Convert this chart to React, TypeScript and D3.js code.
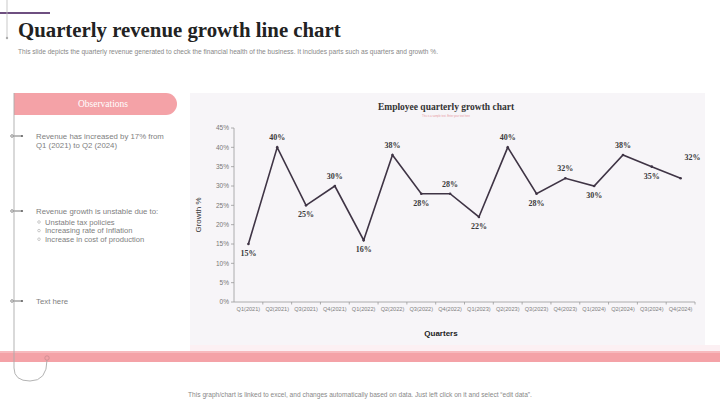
import React from 'react';
import * as d3 from 'd3';

// chart data
const quarters = [
  'Q1(2021)', 'Q2(2021)', 'Q3(2021)', 'Q4(2021)',
  'Q1(2022)', 'Q2(2022)', 'Q3(2022)', 'Q4(2022)',
  'Q1(2023)', 'Q2(2023)', 'Q3(2023)', 'Q4(2023)',
  'Q1(2024)', 'Q2(2024)', 'Q3(2024)', 'Q4(2024)',
];
const growth = [15, 40, 25, 30, 16, 38, 28, 28, 22, 40, 28, 32, 30, 38, 35, 32];
const yTicks = [0, 5, 10, 15, 20, 25, 30, 35, 40, 45];

const observations = [
  ['Revenue has increased by 17% from', 'Q1 (2021) to Q2 (2024)'],
  ['Revenue growth is unstable due to:'],
  ['Text here'],
];
const causes = ['Unstable tax policies', 'Increasing rate of Inflation', 'Increase in cost of production'];

const W = 720;
const H = 404;
const pink = '#f4a2a7';
const sans = 'Liberation Sans, Arial, sans-serif';
const serif = 'Liberation Serif, Times New Roman, serif';

export default function App() {
  const plot = { left: 234, right: 695, top: 128, bottom: 302 };

  const x = d3.scaleBand<string>()
    .domain(quarters)
    .range([plot.left, plot.right]);
  const y = d3.scaleLinear()
    .domain([0, 45])
    .range([plot.bottom, plot.top]);

  const cx = (i: number) => (x(quarters[i]) ?? 0) + x.bandwidth() / 2;

  const line = d3.line<number>()
    .x((_, i) => cx(i))
    .y(d => y(d));

  // bullet rows on the left timeline
  const bulletY = [136, 211, 301];

  return (
    <svg width={W} height={H} style={{ position: 'absolute', left: 0, top: 0, background: '#fff' }}>
      {/* header decoration */}
      <line x1={0} y1={13} x2={50} y2={13} stroke="#6e4f80" strokeWidth={2} />
      <line x1={7} y1={0} x2={7} y2={38} stroke="#bbb" strokeWidth={0.8} />
      <circle cx={7} cy={38} r={1.2} fill="#aaa" />
      <text x={18} y={37} fontFamily={serif} fontWeight="bold" fontSize={20.8} fill="#222">
        Quarterly revenue growth line chart
      </text>
      <text x={18} y={54} fontFamily={sans} fontSize={6.6} fill="#888">
        This slide depicts the quarterly revenue generated to check the financial health of the business. It includes parts such as quarters and growth %.
      </text>

      {/* observations panel */}
      <path d="M14,93 H166 A11,11 0 0 1 166,115 H14 Z" fill={pink} />
      <text x={103} y={107} textAnchor="middle" fontFamily={serif} fontSize={9.5} fill="#fff">
        Observations
      </text>

      {bulletY.map((by, i) => (
        <g key={i}>
          <line x1={12} y1={by} x2={22} y2={by} stroke="#666" strokeWidth={0.9} />
          <circle cx={12} cy={by} r={1.3} fill="#fff" stroke="#666" strokeWidth={0.7} />
          <circle cx={22} cy={by} r={1.1} fill="#666" />
          {observations[i].map((t, j) => (
            <text key={j} x={36} y={by + 3 + j * 9} fontFamily={sans} fontSize={7.8} fill="#808080">{t}</text>
          ))}
        </g>
      ))}
      {causes.map((c, i) => (
        <g key={c}>
          <circle cx={39} cy={222 + i * 8.6} r={1.3} fill="none" stroke="#999" strokeWidth={0.5} />
          <text x={45} y={224.6 + i * 8.6} fontFamily={sans} fontSize={7.6} fill="#808080">{c}</text>
        </g>
      ))}

      {/* chart panel */}
      <rect x={190} y={93} width={515} height={252} fill="#f7f5f8" />
      <rect x={190} y={345} width={530} height={6} fill="#fcf0f3" />
      <text x={446} y={110} textAnchor="middle" fontFamily={serif} fontWeight="bold" fontSize={9.5} fill="#333">
        Employee quarterly growth chart
      </text>
      <text x={446} y={117} textAnchor="middle" fontFamily={sans} fontSize={2.6} fill="#e79aa3">
        This is a sample text. Enter your text here
      </text>

      {/* y axis */}
      <line x1={plot.left} y1={plot.top} x2={plot.left} y2={plot.bottom} stroke="#999" strokeWidth={0.8} />
      {yTicks.map(t => (
        <g key={t}>
          <line x1={plot.left - 3} y1={y(t)} x2={plot.left} y2={y(t)} stroke="#999" strokeWidth={0.8} />
          <text x={plot.left - 5} y={y(t) + 2.3} textAnchor="end" fontFamily={sans} fontSize={6.5} fill="#777">
            {t}%
          </text>
        </g>
      ))}
      <text transform={`translate(201,${(plot.top + plot.bottom) / 2}) rotate(-90)`} textAnchor="middle"
        fontFamily={sans} fontSize={8} fill="#333">
        Growth %
      </text>

      {/* x axis */}
      <line x1={plot.left} y1={plot.bottom} x2={plot.right} y2={plot.bottom} stroke="#999" strokeWidth={0.8} />
      {quarters.map((q, i) => (
        <g key={q}>
          <line x1={(x(q) ?? 0) + x.bandwidth()} y1={plot.bottom} x2={(x(q) ?? 0) + x.bandwidth()} y2={plot.bottom + 2.5}
            stroke="#999" strokeWidth={0.8} />
          <text x={cx(i)} y={plot.bottom + 9} textAnchor="middle" fontFamily={sans} fontSize={5.6} fill="#808080">
            {q}
          </text>
        </g>
      ))}
      <text x={441} y={336} textAnchor="middle" fontFamily={sans} fontWeight="bold" fontSize={8} fill="#222">
        Quarters
      </text>

      {/* growth line */}
      <path d={line(growth) ?? ''} fill="none" stroke="#3f3445" strokeWidth={1.6} strokeLinejoin="miter" />
      {growth.map((v, i) => (
        <circle key={i} cx={cx(i)} cy={y(v)} r={1.3} fill="#3f3445" />
      ))}
      {growth.map((v, i) => {
        const last = i === growth.length - 1;
        const above = i % 2 === 1 || last;
        const lx = last ? cx(i) + 12 : cx(i);
        const ly = last ? y(v) - 18 : above ? y(v) - 7 : y(v) + 12;
        return (
          <text key={i} x={lx} y={ly} textAnchor="middle" fontFamily={serif} fontWeight="bold" fontSize={8}
            fill="#3a3a3a">
            {v}%
          </text>
        );
      })}

      {/* bottom band */}
      <rect x={0} y={351} width={W} height={11} fill={pink} />
      <rect x={0} y={351} width={W} height={2} fill="#f7b9bd" />
      <path d="M14,93 V368 Q14,381 30,381 Q47,381 47,360" fill="none" stroke="#aaa" strokeWidth={0.9} />
      <circle cx={47} cy={358} r={2.2} fill="none" stroke="#c98a90" strokeWidth={0.8} />
      <text x={360} y={397} textAnchor="middle" fontFamily={sans} fontSize={6.6} fill="#888">
        This graph/chart is linked to excel, and changes automatically based on data. Just left click on it and select “edit data”.
      </text>
    </svg>
  );
}
